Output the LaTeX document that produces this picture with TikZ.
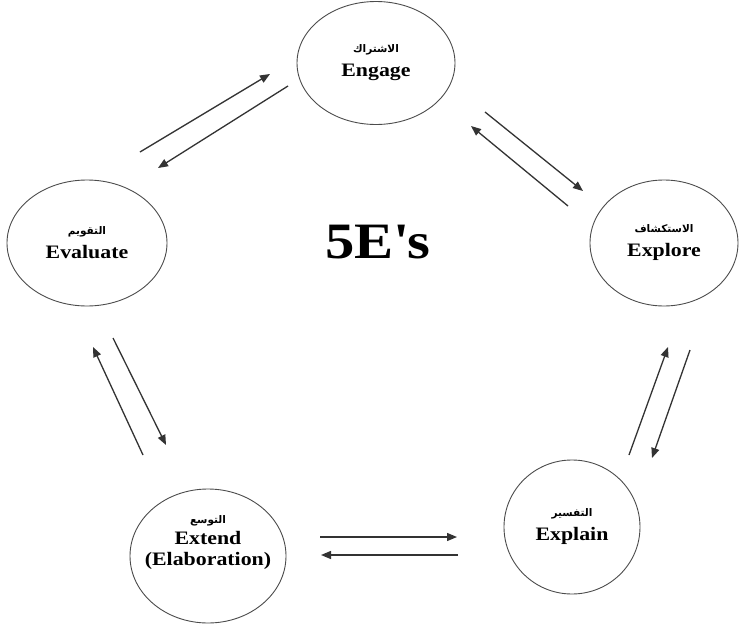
\documentclass[tikz,border=0pt]{standalone}
\usepackage{fontspec}
\setmainfont{Liberation Serif}
\newfontfamily\wideserif[FakeStretch=1.15]{Liberation Serif}
\newfontfamily\arabicfont[Script=Arabic]{DejaVu Sans}
\TeXXeTstate=1
\usetikzlibrary{shapes.geometric,arrows.meta}
\newcommand{\ar}[1]{{\arabicfont\bfseries\fontsize{10.5}{12}\selectfont\beginR #1\endR}}
\begin{document}
\begin{tikzpicture}[x=1pt,y=-1pt,
  phase/.style={draw=black!70,line width=0.9pt,ellipse,inner sep=0pt},
  phasetext/.style={align=center,inner sep=0pt,
    font=\wideserif\bfseries\fontsize{19}{24}\selectfont},
  link/.style={draw=black!80,line width=1.3pt,-{Triangle[length=10pt,width=8pt]}}]
\useasboundingbox[fill=white] (0,0) rectangle (740,624);
\node[phase,minimum width=158pt,minimum height=123pt] (engage) at (376,63) {};
\node[phase,minimum width=148pt,minimum height=126pt] (explore) at (664,243) {};
\node[phase,minimum width=160pt,minimum height=126pt] (evaluate) at (87,243) {};
\node[phase,minimum width=156pt,minimum height=134pt] (extend) at (208,556) {};
\node[phase,minimum width=136pt,minimum height=134pt] (explain) at (572,527) {};
\node[phasetext] (engage-t) at (engage) {\ar{الاشتراك}\\Engage};
\node[phasetext] (explore-t) at (explore) {\ar{الاستكشاف}\\Explore};
\node[phasetext] (evaluate-t) at (evaluate) {\ar{التقويم}\\Evaluate};
\node[phasetext] (extend-t) at ([yshift=13pt]extend) {\ar{التوسع}\\[-3pt]Extend\\[-3pt](Elaboration)};
\node[phasetext] (explain-t) at (explain) {\ar{التفسير}\\Explain};
\node[font=\wideserif\bfseries\fontsize{51}{60}\selectfont] (title) at (378,242) {5E\textquotesingle s};
% arrow end points
\coordinate (a1) at (140,152); \coordinate (a2) at (270,74);
\coordinate (b1) at (288,86);  \coordinate (b2) at (158,168);
\coordinate (c1) at (485,112); \coordinate (c2) at (583,191);
\coordinate (d1) at (568,206); \coordinate (d2) at (471,126);
\coordinate (e1) at (629,455); \coordinate (e2) at (668,347);
\coordinate (f1) at (690,350); \coordinate (f2) at (652,458);
\coordinate (g1) at (320,537); \coordinate (g2) at (457,537);
\coordinate (h1) at (458,555); \coordinate (h2) at (321,555);
\coordinate (i1) at (143,455); \coordinate (i2) at (93,347);
\coordinate (j1) at (113,338); \coordinate (j2) at (166,445);
\foreach \s/\t in {a1/a2,b1/b2,c1/c2,d1/d2,e1/e2,f1/f2,g1/g2,h1/h2,i1/i2,j1/j2}
  \draw[link] (\s) -- (\t);
\end{tikzpicture}
\end{document}
